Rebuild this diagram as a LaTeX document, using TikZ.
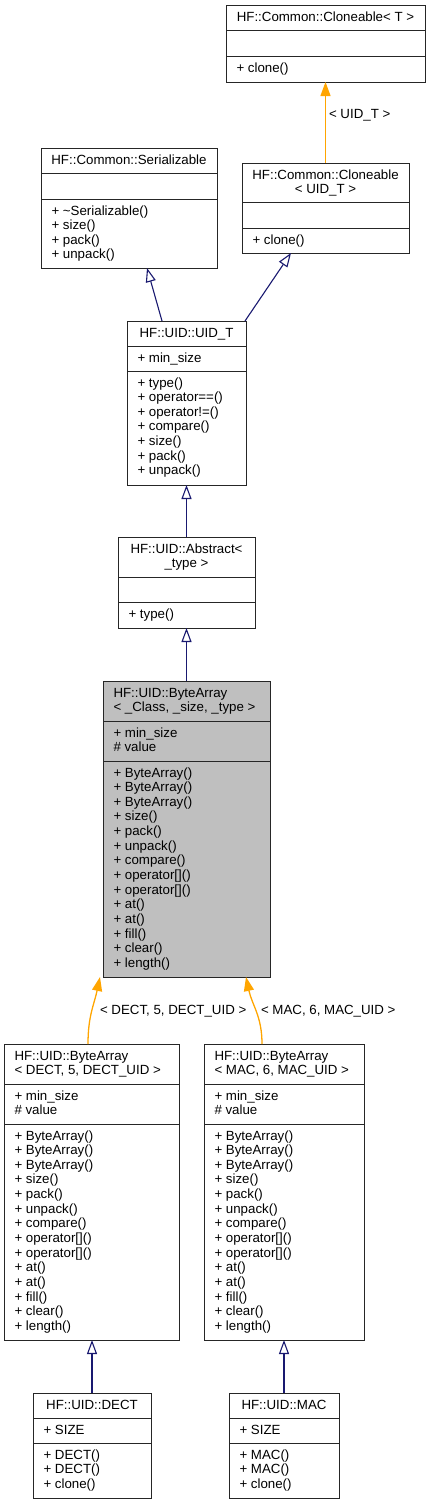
\documentclass[tikz,border=0pt]{standalone}
\usepackage{fontspec}
\setmainfont{Liberation Sans}
\usetikzlibrary{arrows.meta}
\definecolor{edgeblue}{HTML}{191970}
\definecolor{tplorange}{HTML}{FFA500}
\definecolor{hlgray}{HTML}{BFBFBF}
\newcommand\cf{\fontsize{13.3}{14.65}\selectfont}
\newcommand\fs{\rule{0pt}{10pt}}
\newcommand\mkclass[8]{%
  \node[cls, fill=#8, minimum width={#4-#2}, minimum height={#5-#3}] (#1) at ({(#2+#4)/2},{(#3+#5)/2}) {};
  \draw[sepl] (#2,#6) -- (#4,#6);
  \draw[sepl] (#2,#7) -- (#4,#7);
}
\tikzset{
  cls/.style={draw=black!85, line width=1pt, rectangle, inner sep=0pt, outer sep=0pt},
  sepl/.style={draw=black!85, line width=1pt},
  txt/.style={font=\cf, inner sep=0pt, outer sep=0pt, align=left, anchor=north west},
  ttl/.style={font=\cf, inner sep=0pt, outer sep=0pt, align=center, anchor=north},
  lbl/.style={font=\cf, inner sep=0pt, outer sep=0pt, anchor=base west},
  inh/.style={draw=edgeblue, line width=1.1pt, {Triangle[open,length=14pt,width=10pt,fill=white]}-},
  tpl/.style={draw=tplorange, line width=1.3pt, {Triangle[length=14pt,width=10pt]}-},
}
\begin{document}
\begin{tikzpicture}[x=1pt,y=-1pt]
\useasboundingbox (0,0) rectangle (429,1504);

% Cloneable< T >
\mkclass{clT}{226}{6}{425}{82}{31}{57}{white}
\node[ttl] (clT-t) at (325.5,12) {\fs HF::Common::Cloneable< T >};
\node[txt] (clT-m) at (236.5,63) {\fs + clone()};

% Serializable
\mkclass{ser}{41}{148}{217}{268}{173}{199}{white}
\node[ttl] (ser-t) at (129,154) {\fs HF::Common::Serializable};
\node[txt] (ser-m) at (51.5,205) {\fs + \textasciitilde Serializable()\\+ size()\\+ pack()\\+ unpack()};

% Cloneable< UID_T >
\mkclass{clU}{242}{163}{409}{253}{202}{228}{white}
\node[ttl] (clU-t) at (325.5,169) {\fs HF::Common::Cloneable\\< UID\_T >};
\node[txt] (clU-m) at (252.5,234) {\fs + clone()};

% UID_T
\mkclass{uidt}{127}{321}{246}{485}{346}{371}{white}
\node[ttl] (uidt-t) at (186.5,327) {\fs HF::UID::UID\_T};
\node[txt] (uidt-a) at (137.5,352) {\fs + min\_size};
\node[txt] (uidt-m) at (137.5,377) {\fs + type()\\+ operator==()\\+ operator!=()\\+ compare()\\+ size()\\+ pack()\\+ unpack()};

% Abstract
\mkclass{abs}{118}{537}{255}{628}{577}{602}{white}
\node[ttl] (abs-t) at (186.5,543) {\fs HF::UID::Abstract<\\\_type >};
\node[txt] (abs-m) at (128.5,608) {\fs + type()};

% ByteArray template
\mkclass{ba}{103}{681}{270}{977}{721}{761}{hlgray}
\node[txt] (ba-t) at (113.5,687) {\fs HF::UID::ByteArray\\< \_Class, \_size, \_type >};
\node[txt] (ba-a) at (113.5,727) {\fs + min\_size\\\# value};
\node[txt] (ba-m) at (113.5,767) {\fs + ByteArray()\\+ ByteArray()\\+ ByteArray()\\+ size()\\+ pack()\\+ unpack()\\+ compare()\\+ operator[]()\\+ operator[]()\\+ at()\\+ at()\\+ fill()\\+ clear()\\+ length()};

% ByteArray DECT
\mkclass{baD}{4}{1044}{179}{1340}{1084}{1124}{white}
\node[txt] (baD-t) at (14.5,1050) {\fs HF::UID::ByteArray\\< DECT, 5, DECT\_UID >};
\node[txt] (baD-a) at (14.5,1090) {\fs + min\_size\\\# value};
\node[txt] (baD-m) at (14.5,1130) {\fs + ByteArray()\\+ ByteArray()\\+ ByteArray()\\+ size()\\+ pack()\\+ unpack()\\+ compare()\\+ operator[]()\\+ operator[]()\\+ at()\\+ at()\\+ fill()\\+ clear()\\+ length()};

% ByteArray MAC
\mkclass{baM}{204}{1044}{364}{1340}{1084}{1124}{white}
\node[txt] (baM-t) at (214.5,1050) {\fs HF::UID::ByteArray\\< MAC, 6, MAC\_UID >};
\node[txt] (baM-a) at (214.5,1090) {\fs + min\_size\\\# value};
\node[txt] (baM-m) at (214.5,1130) {\fs + ByteArray()\\+ ByteArray()\\+ ByteArray()\\+ size()\\+ pack()\\+ unpack()\\+ compare()\\+ operator[]()\\+ operator[]()\\+ at()\\+ at()\\+ fill()\\+ clear()\\+ length()};

% DECT
\mkclass{dect}{33}{1393}{151}{1498}{1418}{1443}{white}
\node[ttl] (dect-t) at (92,1399) {\fs HF::UID::DECT};
\node[txt] (dect-a) at (43.5,1424) {\fs + SIZE};
\node[txt] (dect-m) at (43.5,1449) {\fs + DECT()\\+ DECT()\\+ clone()};

% MAC
\mkclass{mac}{229}{1393}{339}{1498}{1418}{1443}{white}
\node[ttl] (mac-t) at (284,1399) {\fs HF::UID::MAC};
\node[txt] (mac-a) at (239.5,1424) {\fs + SIZE};
\node[txt] (mac-m) at (239.5,1449) {\fs + MAC()\\+ MAC()\\+ clone()};

% edges
\draw[tpl] (clT.south) -- (clU.north);
\node[lbl] (lblU) at (329,118.5) {< UID\_T >};
\draw[inh] ([xshift=18pt]ser.south) -- ([xshift=-24.5pt]uidt.north);
\draw[inh] ([xshift=-34.5pt]clU.south) -- ([xshift=-1pt]uidt.north east);
\draw[inh] (uidt.south) -- (abs.north);
\draw[inh] (abs.south) -- (ba.north);
\draw[tpl] ([xshift=-3pt]ba.south west) .. controls +(-6,28) and +(0,-28) .. ([xshift=-3.5pt]baD.north);
\draw[tpl] ([xshift=-24pt]ba.south east) .. controls +(6,28) and +(0,-28) .. ([xshift=-22pt]baM.north);
\node[lbl] (lblD) at (100,1014) {< DECT, 5, DECT\_UID >};
\node[lbl] (lblM) at (261,1014) {< MAC, 6, MAC\_UID >};
\draw[inh] ([xshift=0.5pt]baD.south) -- (dect.north);
\draw[inh] (baM.south) -- (mac.north);
\end{tikzpicture}
\end{document}
